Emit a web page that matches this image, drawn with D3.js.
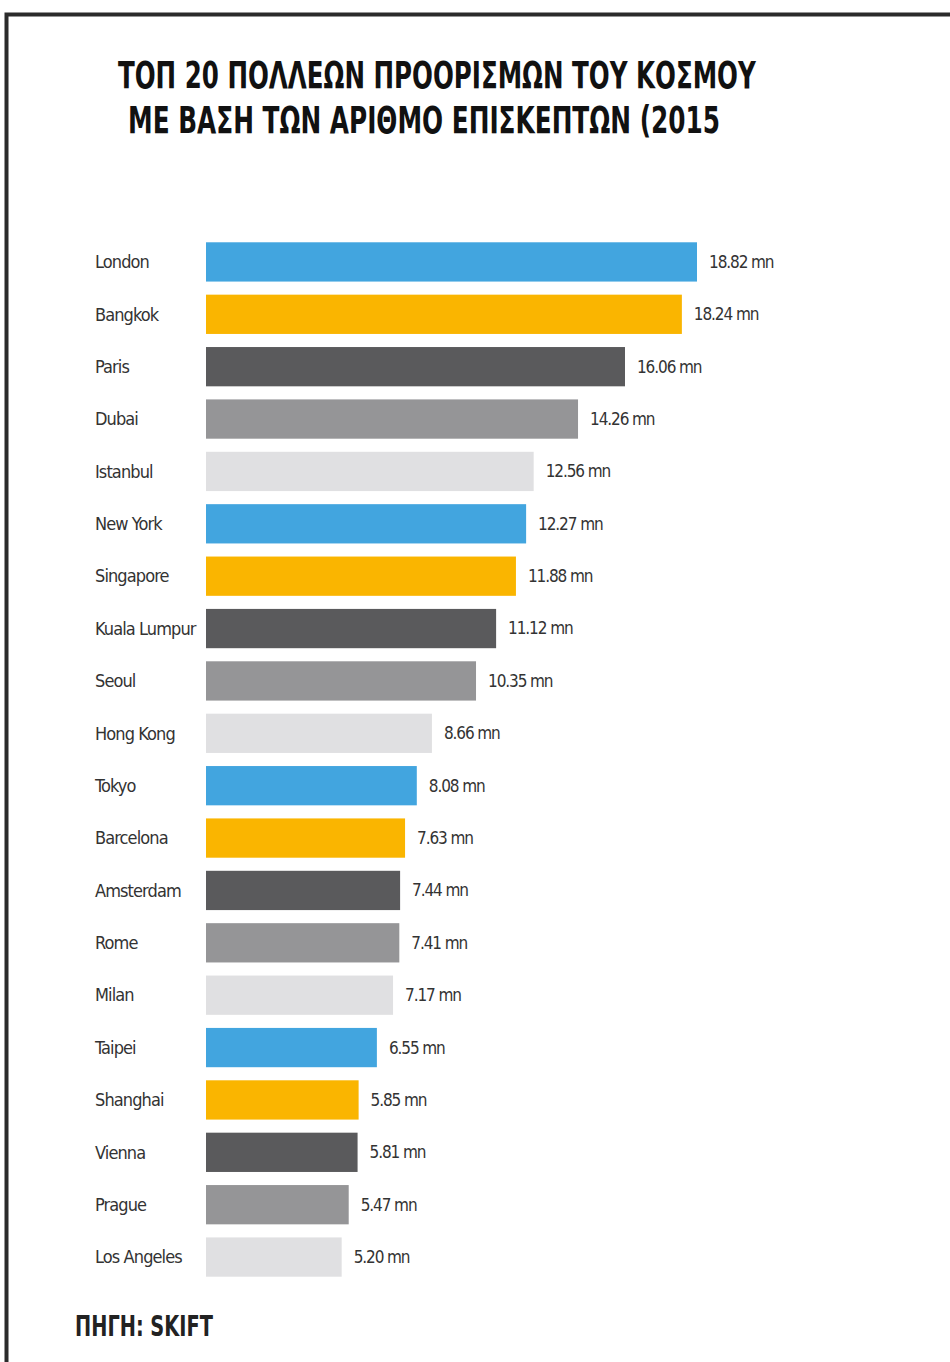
<!DOCTYPE html>
<html>
<head>
<meta charset="utf-8">
<script src="https://cdn.jsdelivr.net/npm/d3@7"></script>
<style>
  body { margin: 0; background: #fff; }
  svg { display: block; }
</style>
</head>
<body>
<div id="chart"></div>
<script>
const cities = [
  "London", "Bangkok", "Paris", "Dubai", "Istanbul", "New York", "Singapore",
  "Kuala Lumpur", "Seoul", "Hong Kong", "Tokyo", "Barcelona", "Amsterdam",
  "Rome", "Milan", "Taipei", "Shanghai", "Vienna", "Prague", "Los Angeles",
];
const visitors = [
  18.82, 18.24, 16.06, 14.26, 12.56, 12.27, 11.88, 11.12, 10.35, 8.66, 8.08,
  7.63, 7.44, 7.41, 7.17, 6.55, 5.85, 5.81, 5.47, 5.2,
];
const valueLabels = visitors.map((v) => v.toFixed(2) + " mn");
const palette = ["#42a5df", "#fab500", "#5a5a5c", "#959597", "#e0e0e2"];
const titleLines = [
  "ΤΟΠ 20 ΠΟΛΛΕΩΝ ΠΡΟΟΡΙΣΜΩΝ ΤΟΥ ΚΟΣΜΟΥ",
  "ΜΕ ΒΑΣΗ ΤΩΝ ΑΡΙΘΜΟ ΕΠΙΣΚΕΠΤΩΝ (2015",
];
const sourceText = "ΠΗΓΗ: SKIFT";

const width = 950;
const height = 1362;
const condensed = "'DejaVu Sans Condensed', 'Liberation Sans Narrow', 'DejaVu Sans', sans-serif";

const svg = d3
  .select("#chart")
  .append("svg")
  .attr("width", width)
  .attr("height", height);

// frame (only top and left edges show)
svg
  .append("path")
  .attr("d", `M6.5,${height} V14.5 H${width}`)
  .attr("fill", "none")
  .attr("stroke", "#2b2b2b")
  .attr("stroke-width", 4);

// squeeze a text horizontally so it spans the given width
function fitWidth(sel, x, y, target) {
  sel.each(function (d, i) {
    const w = this.getComputedTextLength();
    const t = typeof target === "function" ? target(d, i) : target;
    const xx = typeof x === "function" ? x(d, i) : x;
    const yy = typeof y === "function" ? y(d, i) : y;
    const s = Math.min(1, t / w);
    d3.select(this).attr("transform", `translate(${xx},${yy}) scale(${s},1)`);
  });
}

// title
const titleWidths = [638, 592];
svg
  .append("g")
  .selectAll("text")
  .data(titleLines)
  .join("text")
  .attr("font-family", condensed)
  .attr("font-weight", "bold")
  .attr("font-size", 37)
  .attr("fill", "#111")
  .text((d) => d)
  .call(fitWidth, (d, i) => (i === 0 ? 118 : 128), (d, i) => 88 + i * 45, (d, i) => titleWidths[i]);

// scales
const x = d3.scaleLinear().domain([0, d3.max(visitors)]).range([206, 697]);
const y = d3
  .scaleBand()
  .domain(cities)
  .range([236, 1283])
  .paddingInner(0.25)
  .paddingOuter(0.12);

const rows = svg
  .append("g")
  .selectAll("g")
  .data(cities)
  .join("g")
  .attr("transform", (d) => `translate(0,${y(d)})`);

rows
  .append("rect")
  .attr("x", x(0))
  .attr("y", 0)
  .attr("width", (d, i) => x(visitors[i]) - x(0))
  .attr("height", y.bandwidth())
  .attr("fill", (d, i) => palette[i % palette.length]);

rows
  .append("text")
  .attr("x", 95)
  .attr("y", y.bandwidth() / 2)
  .attr("dy", "0.35em")
  .attr("font-family", condensed)
  .attr("font-size", 18)
  .attr("letter-spacing", -0.9)
  .attr("fill", "#333")
  .text((d) => d);

rows
  .append("text")
  .attr("x", (d, i) => x(visitors[i]) + 12)
  .attr("y", y.bandwidth() / 2)
  .attr("dy", "0.35em")
  .attr("font-family", condensed)
  .attr("font-size", 17)
  .attr("letter-spacing", -1.1)
  .attr("fill", "#333")
  .text((d, i) => valueLabels[i]);

// source
svg
  .append("text")
  .attr("font-family", condensed)
  .attr("font-weight", "bold")
  .attr("font-size", 28)
  .attr("fill", "#222")
  .text(sourceText)
  .call(fitWidth, 75, 1336, 138);
</script>
</body>
</html>
